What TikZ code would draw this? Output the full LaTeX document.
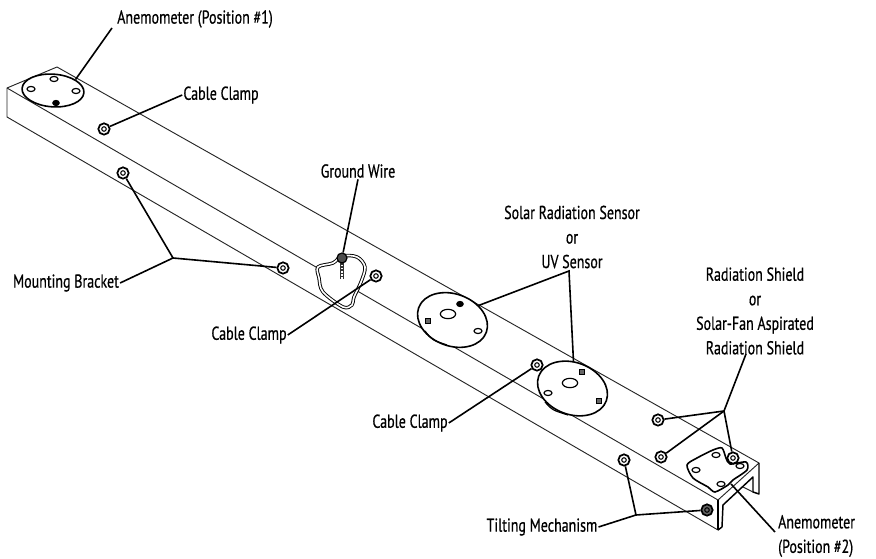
\documentclass[tikz,border=0pt]{standalone}
\usepackage{fontspec}
\newfontfamily\labf[RawFeature={embolden=0.7}]{PT Sans}
\usetikzlibrary{shapes.geometric}
\tikzset{
  lab/.style={font=\labf\fontsize{14}{18.4}\selectfont, inner sep=1pt, xscale=.75, transform shape, align=center},
  beam/.style={line width=.7pt, black!85, line join=round},
  lead/.style={line width=1.2pt, black, line join=miter},
  disc/.style={draw, ellipse, fill=white, line width=1.2pt, inner sep=0pt},
  hole/.style={draw, ellipse, fill=white, line width=.9pt, inner sep=0pt, minimum width=6pt, minimum height=3.8pt},
  dot/.style={draw, ellipse, fill=black, line width=.6pt, inner sep=0pt, minimum width=5pt, minimum height=4pt},
  sq/.style={draw, fill=black!60, line width=.6pt, inner sep=0pt, minimum size=3.6pt},
  washer/.style={draw, circle, fill=white, line width=1.3pt, inner sep=0pt, minimum size=8.5pt,
    path picture={\draw[line width=.8pt] (path picture bounding box.center) circle (1.7pt);}},
  loopw/.style={line join=round},
}
\begin{document}
\begin{tikzpicture}[x=.75pt,y=-.75pt]
\useasboundingbox (0,0) rectangle (876,559);
% beam
\draw[beam] (7,88) -- (57,67) -- (759,463);
\draw[beam] (7,88) -- (718,500) -- (759,463);
\draw[beam] (7,88) -- (7,117) -- (718,530) -- (718,500);
\draw[line width=1.2pt] (718,530) -- (718,500);
\draw[line width=1.1pt, line join=round] (718,530) -- (722,527) -- (723,505) -- (753,477) -- (753,492) -- (759,494) -- (759,463);
\draw[beam] (743,487) -- (753,492);
% ground wire loop
\draw[line width=2.6pt, fill=white, loopw] plot[smooth cycle, tension=.55] coordinates {(318,267) (333,263) (342,256) (357,257) (365,267) (361,282) (354,297) (352,305) (343,307) (323,292) (319,278)};
\draw[line width=1.2pt, white, loopw] plot[smooth cycle, tension=.55] coordinates {(318,267) (333,263) (342,256) (357,257) (365,267) (361,282) (354,297) (352,305) (343,307) (323,292) (319,278)};
\draw[line width=3.4pt, black!80] (342,261) -- (342,279);
\draw[line width=2.2pt, white, dash pattern=on 1pt off 1.3pt] (342,262) -- (342,279);
\node[draw, circle, fill=black!70, line width=.9pt, inner sep=0pt, minimum size=7.5pt] (screw) at (342,258) {};
% discs
\node[disc, minimum width=46.5pt, minimum height=24.5pt, rotate=-4] (d0) at (53,90.5) {};
\node[hole] (h01) at (54,79) {};
\node[hole] (h02) at (31,89) {};
\node[hole] (h03) at (76,91) {};
\node[dot] (h04) at (56,103) {};
\node[disc, minimum width=54pt, minimum height=39pt, rotate=-20] (d1) at (452.5,320) {};
\node[hole, minimum width=11.5pt, minimum height=7pt] (h11) at (448,314) {};
\node[dot] (h12) at (460,304) {};
\node[sq] (h13) at (428,321) {};
\node[hole] (h14) at (478,331) {};
\draw[line width=.9pt] (425,331) .. controls (432,340) .. (447,345);
\node[disc, minimum width=54pt, minimum height=39pt, rotate=-20] (d2) at (572.5,388.5) {};
\node[hole, minimum width=11.5pt, minimum height=7pt] (h21) at (570,383) {};
\node[sq] (h22) at (582,372) {};
\node[hole] (h23) at (548,393) {};
\node[sq] (h24) at (599,401) {};
\draw[line width=.9pt] (545,402) .. controls (552,410) .. (568,415);
% anemometer plate
\draw[fill=white, line width=1.2pt, line join=round] plot[smooth cycle, tension=.45] coordinates {(687,465) (697,458) (713,450) (722,448) (726,458) (730,464) (746,462) (747,470) (733,480) (728,485) (715,492) (708,487) (693,478)};
\node[hole] (p1) at (716,455) {};
\node[hole] (p2) at (696,470) {};
\node[hole] (p3) at (740,466) {};
\node[hole] (p4) at (721,484) {};
% washers
\node[washer] (w1) at (104,129) {};
\node[washer] (w2) at (123,173) {};
\node[washer] (w3) at (283,268) {};
\node[washer] (w4) at (376,276) {};
\node[washer] (w5) at (537,365) {};
\node[washer] (w6) at (658,420) {};
\node[washer] (w7) at (661,457) {};
\node[washer] (w8) at (733,458) {};
\node[washer] (w9) at (624,460) {};
\node[washer, fill=black!60] (w10) at (707,510) {};
% labels
\node[lab] (lA1) at (195,19) {Anemometer (Position \#1)};
\node[lab] (lC1) at (221,95) {Cable Clamp};
\node[lab] (lG) at (358,171) {Ground Wire};
\node[lab] (lS) at (572,237) {Solar Radiation Sensor\\or\\UV Sensor};
\node[lab] (lR) at (755,311) {Radiation Shield\\or\\Solar-Fan Aspirated\\Radiation Shield};
\node[lab] (lM) at (66,283) {Mounting Bracket};
\node[lab] (lC2) at (249,335) {Cable Clamp};
\node[lab] (lC3) at (410,423) {Cable Clamp};
\node[lab] (lT) at (542,527) {Tilting Mechanism};
\node[lab, align=left, anchor=west] (lA2) at (777,536) {Anemometer\\(Position \#2)};
% junctions
\coordinate (jM) at (173,258);
\coordinate (jS) at (569,271);
\coordinate (jR) at (724,411);
\coordinate (jT) at (636,515);
\coordinate (eA2) at (731,484);
\coordinate (sR) at (746,354);
\coordinate (sA1) at (112,28);
\coordinate (sA2) at (775,532);
% leaders
\draw[lead] (sA1) -- (d0.30);
\draw[lead] (lC1.west) -- (w1);
\draw[lead] (lM.east) -- (jM) -- (w2);
\draw[lead] (jM) -- (w3);
\draw[lead] (lG.south) -- (screw);
\draw[lead] (lC2.east) -- (w4);
\draw[lead] (d1.49) -- (jS) -- (d2.108);
\draw[lead] (lC3.east) -- (w5);
\draw[lead] (sR) -- (jR) -- (w6);
\draw[lead] (jR) -- (w7);
\draw[lead] (jR) -- (w8);
\draw[lead] (lT.east) -- (jT) -- (w9);
\draw[lead] (jT) -- (w10);
\draw[lead] (sA2) -- (eA2);
\end{tikzpicture}
\end{document}
